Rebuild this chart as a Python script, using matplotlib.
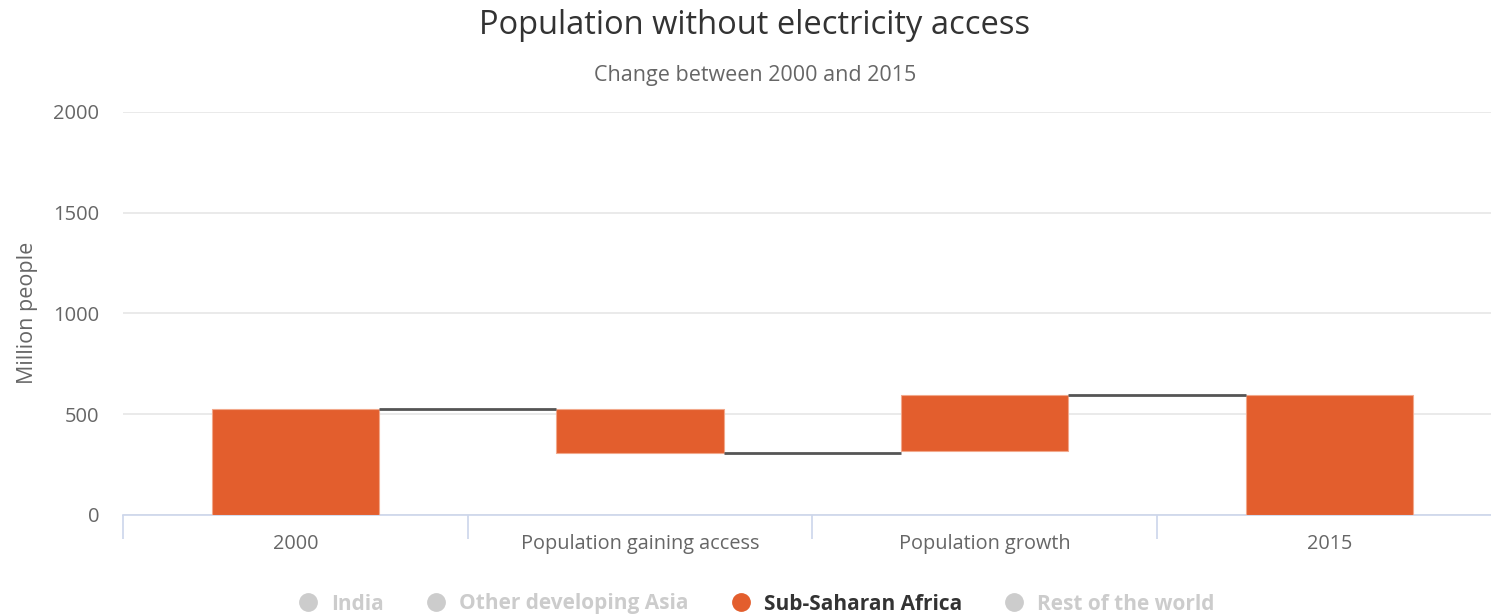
import matplotlib
matplotlib.use("Agg")
import matplotlib.pyplot as plt
from matplotlib.lines import Line2D

plt.rcParams['font.family'] = ['Open Sans', 'DejaVu Sans']

categories = ["2000", "Population gaining access", "Population growth", "2015"]
bar_bottoms = [0, 305, 317, 0]
bar_tops = [525, 525, 596, 596]
connector_levels = [525, 305, 596]
yticks = [0, 500, 1000, 1500, 2000]
legend_names = ["India", "Other developing Asia", "Sub-Saharan Africa", "Rest of the world"]
legend_active = [False, False, True, False]

BAR = "#E35E2D"
W, H = 1491, 614
fig = plt.figure(figsize=(W / 100, H / 100), dpi=100)
left, right, bottom, top = 123, 1491, 515, 111.7
ax = fig.add_axes([left / W, 1 - bottom / H, (right - left) / W, (bottom - top) / H])

catw = 344.7
xmax = -0.5 + (right - left) / catw
ax.set_xlim(-0.5, xmax)
ax.set_ylim(0, 2000)

bw = 0.485
xs = list(range(len(categories)))
heights = [t - b for b, t in zip(bar_bottoms, bar_tops)]
ax.bar(xs, heights, bottom=bar_bottoms, width=bw, color=BAR, edgecolor="#F2A88B",
       linewidth=0.8, zorder=3)
for i, lvl in enumerate(connector_levels):
    ax.plot([i + bw / 2, i + 1 - bw / 2], [lvl, lvl], color="#555555", lw=2,
            zorder=4, solid_capstyle="butt")

ax.set_yticks(yticks)
ax.set_yticklabels([str(v) for v in yticks])
ax.yaxis.grid(True, color="#E6E6E6", lw=1.2, zorder=0)
ax.tick_params(axis="y", length=0, pad=17, labelsize=14.5, labelcolor="#666666")
ax.set_xticks(xs)
ax.set_xticklabels(categories)
ax.tick_params(axis="x", length=0, pad=14, labelsize=14.3, labelcolor="#666666")
ax.set_xticks([-0.5, 0.5, 1.5, 2.5], minor=True)
ax.tick_params(axis="x", which="minor", length=17, width=1.2, color="#CCD6EB")

for s in ["top", "right", "left"]:
    ax.spines[s].set_visible(False)
ax.spines["bottom"].set_color("#CCD6EB")
ax.spines["bottom"].set_linewidth(1.2)
ax.set_axisbelow(True)

fig.text(27 / W, 1 - 313 / H, "Million people", rotation=90, ha="center", va="center",
         fontsize=15.5, color="#666666")
fig.text(755 / W, 1 - 26 / H, "Population without electricity access", ha="center",
         va="center", fontsize=23.5, color="#333333")
fig.text(755 / W, 1 - 75 / H, "Change between 2000 and 2015", ha="center", va="center",
         fontsize=15.5, color="#666666")

handles = [Line2D([], [], marker="o", ls="", markersize=12.5,
                  color=(BAR if a else "#CCCCCC")) for a in legend_active]
leg = fig.legend(handles, legend_names, loc="center", bbox_to_anchor=(755 / W, 1 - 604 / H),
                 ncol=4, frameon=False, handletextpad=0.5, columnspacing=1.9,
                 prop={"size": 15, "weight": "bold"}, handlelength=1.2)
for t, a in zip(leg.get_texts(), legend_active):
    t.set_color("#333333" if a else "#CCCCCC")

fig.savefig("out.png", dpi=100)
